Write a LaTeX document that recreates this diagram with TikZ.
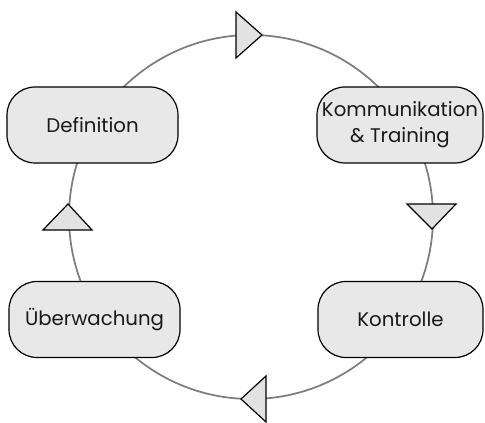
\documentclass[tikz,border=0pt]{standalone}
\usepackage{fontspec}
\setmainfont{Poppins}
\definecolor{boxfill}{RGB}{232,232,232}
\definecolor{tipfill}{RGB}{226,226,226}
\definecolor{ringline}{RGB}{125,125,125}
\definecolor{inktext}{RGB}{25,25,25}
\begin{document}
\begin{tikzpicture}[x=0.75pt,y=-0.75pt,
  ring/.style={draw=ringline,line width=1.3pt},
  stage/.style={draw=black,fill=boxfill,line width=0.9pt,rounded corners=21pt,
    minimum height=57pt,inner sep=0pt,align=center,text=inktext,
    font=\fontsize{14.8}{19.5}\selectfont},
  tip/.style={draw=black,fill=tipfill,line width=0.9pt,line join=miter}]
\useasboundingbox (0,0) rectangle (485,423);
% the cycle ring
\coordinate (c) at (251,217);
\draw[ring] (c) circle [radius=182];
% stages of the cycle
\node[stage,minimum width=128.25pt] (def) at (92.5,125) {Definition};
\node[stage,minimum width=124.5pt] (kom) at (400,125) {Kommunikation\\\& Training};
\node[stage,minimum width=128.25pt] (ueb) at (94.5,319.5) {Überwachung};
\node[stage,minimum width=123.75pt] (kon) at (400.5,319.5) {Kontrolle};
% direction markers on the ring
\coordinate (t1) at (236,12); \coordinate (t2) at (236,58); \coordinate (t3) at (262,35);
\draw[tip] (t1) -- (t2) -- (t3) -- cycle;
\coordinate (r1) at (407,204); \coordinate (r2) at (456,204); \coordinate (r3) at (432,229);
\draw[tip] (r1) -- (r2) -- (r3) -- cycle;
\coordinate (b1) at (266,376); \coordinate (b2) at (266,422); \coordinate (b3) at (241,399);
\draw[tip] (b1) -- (b2) -- (b3) -- cycle;
\coordinate (l1) at (43,230); \coordinate (l2) at (92,230); \coordinate (l3) at (68,204);
\draw[tip] (l1) -- (l2) -- (l3) -- cycle;
\end{tikzpicture}
\end{document}
